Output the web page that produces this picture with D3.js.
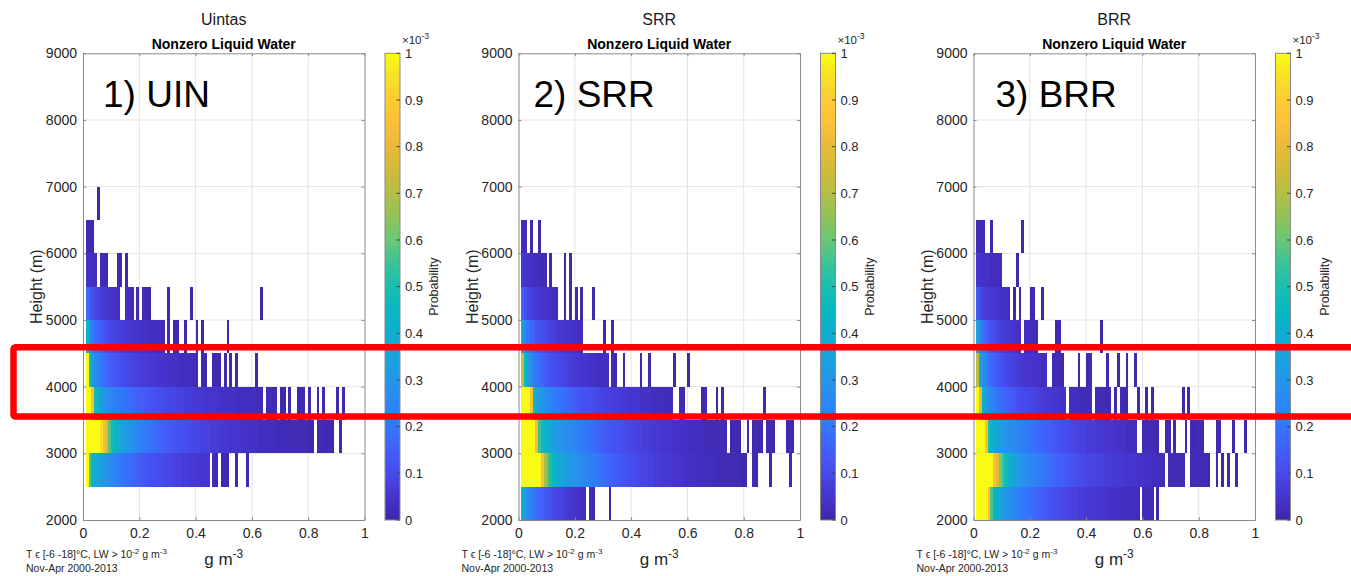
<!DOCTYPE html>
<html>
<head>
<meta charset="utf-8">
<script src="https://cdn.jsdelivr.net/npm/d3@7"></script>
<style>
  html, body { margin: 0; padding: 0; background: #fff; }
  svg { display: block; font-family: "Liberation Sans", Arial, Helvetica, sans-serif; }
</style>
</head>
<body>
<svg id="chart" width="1351" height="576"></svg>
<script>
// Liquid-water histograms: probability per 0.01 g m^-3 bin (first bin starts at 0.01),
// stored in units of 1e-5, one array per 500 m height layer (name = layer base in m).
const lwFirstBin = 0.01;
const lwBinWidth = 0.01;
const layerDepth = 500;
const valueUnit = 1e-5;

// 1) Uintas
const uin2500 = [110,58,45,38,35,33,30,28,27,25,24,22,21,20,19,18,17,16,15,14,13,13,12,12,11,11,10,10,9,9,9,8,8,8,7,7,7,6,6,6,5,5,5,5,0,2,1,0,1,2,1,0,0,1,0,0,0,1];
const uin3000 = [160,220,200,160,125,95,83,78,58,48,43,40,37,34,32,30,28,26,25,24,22,21,20,19,18,17,16,15,15,14,13,13,12,12,11,11,10,10,9,9,9,8,8,8,7,7,7,6,6,6,6,5,5,5,5,4,4,4,4,4,4,3,3,3,3,3,3,3,2,2,2,2,2,2,2,2,2,2,2,1,1,0,2,2,2,1,2,1,0,0,1];
const uin3500 = [180,130,85,48,40,34,31,28,26,24,23,22,21,20,19,18,17,16,15,15,14,13,13,12,12,11,11,10,10,9,9,9,8,8,8,7,7,7,6,6,6,6,5,5,5,5,5,4,4,4,4,4,4,3,3,3,3,3,3,3,2,2,2,0,2,2,1,2,0,1,1,0,1,0,0,1,2,1,0,1,0,0,1,0,1,0,0,0,0,1,0,1];
const uin4000 = [100,48,32,27,23,20,18,16,15,14,13,12,11,10,10,9,9,8,8,7,7,7,6,6,6,5,5,5,5,4,4,4,4,3,3,3,3,3,2,2,0,1,1,0,0,1,2,1,0,1,0,1,0,1,0,0,0,0,0,0,1];
const uin4500 = [42,28,22,18,16,14,12,11,10,9,8,8,7,7,6,6,5,5,5,4,4,4,3,3,3,3,3,2,0,2,0,1,1,0,0,1,0,0,0,1,0,1,0,0,0,0,0,0,0,0,1];
const uin5000 = [18,14,11,9,8,7,6,5,5,4,4,3,0,0,3,2,2,0,2,0,2,2,1,0,0,0,0,0,0,1,0,0,0,0,0,0,0,1,0,0,0,0,0,0,0,0,0,0,0,0,0,0,0,0,0,0,0,0,0,0,0,0,1];
const uin5500 = [4,4,3,3,0,2,2,1,0,0,0,1,1,0,1];
const uin6000 = [2,2,1];
const uin6500 = [0,0,0,0,1];

// 2) SRR
const srr2000 = [40,30,26,23,20,18,16,15,13,12,11,10,9,8,8,7,6,6,5,5,4,4,3,0,2,1,0,0,0,0,0,1];
const srr2500 = [150,250,280,230,180,140,105,85,68,58,50,46,42,38,36,34,32,31,30,29,28,27,25,24,23,22,21,20,19,18,17,16,15,14,14,13,12,12,11,11,10,10,9,9,9,8,8,7,7,7,6,6,6,5,5,5,5,4,4,4,4,4,3,3,3,3,3,3,3,2,2,2,2,2,2,2,2,2,1,1,0,0,2,1,0,0,0,0,1,0,0,0,0,0,0,1];
const srr3000 = [200,250,200,150,110,82,55,47,43,38,36,34,32,30,29,28,27,26,25,24,23,22,21,20,19,18,17,16,15,14,13,13,12,12,11,11,10,10,9,9,8,8,8,7,7,7,6,6,6,6,5,5,5,5,4,4,4,4,4,3,3,3,3,3,3,2,2,2,2,2,2,2,2,0,1,2,2,1,0,0,1,0,1,2,1,1,0,1,2,1,0,0,0,0,1,2,1];
const srr3500 = [170,140,110,85,48,36,32,29,27,25,24,22,21,20,19,18,17,16,15,14,13,12,12,11,11,10,10,9,9,8,8,8,7,7,7,6,6,6,5,5,5,5,4,4,4,4,3,3,3,3,3,2,2,2,0,0,2,1,0,0,0,0,0,0,1,2,0,0,0,1,0,1,0,0,0,0,0,0,0,0,0,0,0,0,0,0,1];
const srr4000 = [75,45,32,27,23,20,18,16,14,13,12,11,10,10,9,8,8,7,7,6,6,5,5,5,4,4,4,3,3,3,3,0,2,1,0,0,1,0,0,0,0,0,1,0,0,1,0,0,0,0,0,0,0,0,1,0,0,0,0,1];
const srr4500 = [33,24,20,17,15,13,12,11,10,9,8,8,7,6,6,5,5,5,4,4,3,3,0,0,0,0,0,0,0,1,0,0,1];
const srr5000 = [16,11,9,8,7,6,6,5,5,4,4,3,3,0,0,1,0,1,0,1,0,1,0,0,0,1];
const srr5500 = [5,5,4,4,3,3,3,2,2,0,1,0,0,0,0,1,0,1];
const srr6000 = [2,2,0,1,0,0,1];

// 3) BRR
const brr2000 = [180,220,170,120,85,58,45,40,36,33,31,29,27,25,24,22,21,20,19,18,17,16,15,14,13,13,12,11,11,10,10,9,9,8,8,8,7,7,7,6,6,6,5,5,5,5,4,4,4,4,4,3,3,3,3,3,3,2,0,2,2,2,2,0,1];
const brr2500 = [170,260,250,200,150,105,85,78,63,55,48,44,38,35,33,31,29,28,26,25,24,23,22,21,20,19,18,17,16,15,15,14,13,13,12,11,11,10,10,9,9,9,8,8,8,7,7,7,6,6,6,6,5,5,5,5,5,4,4,4,4,4,3,3,3,3,3,0,2,2,2,2,2,2,0,0,2,2,2,2,2,2,1,0,0,1,0,1,0,1,0,0,1];
const brr3000 = [190,150,110,85,50,43,38,35,33,31,29,28,27,26,25,24,23,22,21,20,19,18,17,16,15,15,14,13,13,12,11,11,10,10,9,9,8,8,8,7,7,7,6,6,6,5,5,5,5,4,4,4,4,3,3,3,3,0,0,2,2,2,2,2,1,0,0,1,2,0,1,0,0,0,1,0,2,1,2,2,1,0,0,0,0,1,2,0,0,0,0,1,0,0,0,1];
const brr3500 = [120,80,40,32,28,25,22,20,18,17,16,15,14,13,12,11,10,10,9,9,8,8,7,7,6,6,6,5,5,5,4,4,0,3,3,3,3,2,2,2,2,0,2,2,2,2,1,2,0,1,0,2,1,1,0,0,0,1,0,0,1,0,1,0,0,0,0,0,0,0,0,0,0,1,0,1];
const brr4000 = [72,38,28,23,20,17,15,14,12,11,10,9,8,8,7,6,6,5,5,5,4,4,4,3,3,0,0,2,2,2,1,0,0,0,0,0,1,0,0,1,2,0,0,0,0,0,1,0,0,0,1,0,0,1,0,0,1];
const brr4500 = [33,24,19,16,13,12,10,9,8,7,7,6,5,5,4,4,0,3,3,3,2,2,0,0,0,0,0,0,1,2,0,0,0,0,0,0,0,0,0,0,0,0,0,0,1];
const brr5000 = [14,10,8,7,6,6,5,5,4,4,4,3,0,1,0,1,0,0,0,1,2,0,0,1];
const brr5500 = [5,5,4,4,4,3,3,3,2,0,0,0,0,0,1];
const brr6000 = [2,2,2,0,0,1,0,0,0,0,0,0,0,0,0,0,1];

const siteNames = ["Uintas", "SRR", "BRR"];
const siteTags = ["1) UIN", "2) SRR", "3) BRR"];
const siteLayers = [
  [[2500, uin2500], [3000, uin3000], [3500, uin3500], [4000, uin4000], [4500, uin4500],
   [5000, uin5000], [5500, uin5500], [6000, uin6000], [6500, uin6500]],
  [[2000, srr2000], [2500, srr2500], [3000, srr3000], [3500, srr3500], [4000, srr4000],
   [4500, srr4500], [5000, srr5000], [5500, srr5500], [6000, srr6000]],
  [[2000, brr2000], [2500, brr2500], [3000, brr3000], [3500, brr3500], [4000, brr4000],
   [4500, brr4500], [5000, brr5000], [5500, brr5500], [6000, brr6000]]
];

const xTicks = [0, 0.2, 0.4, 0.6, 0.8, 1];
const yTicks = [2000, 3000, 4000, 5000, 6000, 7000, 8000, 9000];
const cbTicks = [0, 0.1, 0.2, 0.3, 0.4, 0.5, 0.6, 0.7, 0.8, 0.9, 1];
const probMax = 1e-3;

// parula-style colour ramp
const parulaStops = [
  [62,38,168],[69,52,205],[71,74,235],[66,95,250],[52,118,251],[43,135,244],
  [36,150,232],[25,163,220],[13,174,208],[8,183,192],[26,190,175],[58,195,150],
  [104,199,118],[146,194,88],[180,190,70],[210,185,58],[234,185,58],[250,192,58],
  [254,204,52],[246,225,38],[249,251,20]
].map(c => d3.rgb(c[0], c[1], c[2]).formatHex());
const ramp = d3.scaleLinear()
  .domain(parulaStops.map((_, i) => i / (parulaStops.length - 1)))
  .range(parulaStops)
  .interpolate(d3.interpolateRgb)
  .clamp(true);
const colorOf = p => ramp(Math.min(1, p / probMax));

const svg = d3.select("#chart");
const defs = svg.append("defs");
const grad = defs.append("linearGradient").attr("id", "cbgrad")
  .attr("x1", 0).attr("y1", 1).attr("x2", 0).attr("y2", 0);
d3.range(0, 1.0001, 0.02).forEach(t => {
  grad.append("stop").attr("offset", t).attr("stop-color", ramp(t));
});

const axisTop = 53.3, axisBottom = 520, axisWidth = 281.5;
const panelLefts = [83, 518.5, 973.5];
const tagOffsets = [20, 15, 22];
const textColor = "#262626";
const axisColor = "#8a8a8a";

siteNames.forEach((name, k) => {
  const left = panelLefts[k];
  const right = left + axisWidth;
  const x = d3.scaleLinear().domain([0, 1]).range([left, right]);
  const y = d3.scaleLinear().domain([2000, 9000]).range([axisBottom, axisTop]);
  const g = svg.append("g");

  // grid
  g.append("g").selectAll("line").data(xTicks.slice(1, -1)).join("line")
    .attr("x1", d => x(d)).attr("x2", d => x(d))
    .attr("y1", axisTop).attr("y2", axisBottom)
    .attr("stroke", "#e4e4e4").attr("stroke-width", 1);
  g.append("g").selectAll("line").data(yTicks.slice(1, -1)).join("line")
    .attr("y1", d => y(d)).attr("y2", d => y(d))
    .attr("x1", left).attr("x2", right)
    .attr("stroke", "#e4e4e4").attr("stroke-width", 1);

  // histogram cells
  const cells = [];
  siteLayers[k].forEach(([base, vals]) => {
    vals.forEach((v, i) => {
      if (v > 0) cells.push({ base, lo: lwFirstBin + i * lwBinWidth, p: v * valueUnit });
    });
  });
  g.append("g").attr("shape-rendering", "crispEdges")
    .selectAll("rect").data(cells).join("rect")
    .attr("x", d => x(d.lo))
    .attr("width", d => x(d.lo + lwBinWidth) - x(d.lo))
    .attr("y", d => y(d.base + layerDepth))
    .attr("height", d => y(d.base) - y(d.base + layerDepth))
    .attr("fill", d => colorOf(d.p));

  // axes (box with inward ticks on all four sides)
  const xAxisB = d3.axisBottom(x).tickValues(xTicks).tickFormat(d3.format("~g")).tickSizeInner(-3).tickSizeOuter(0).tickPadding(8);
  const yAxisL = d3.axisLeft(y).tickValues(yTicks).tickFormat(d3.format("d")).tickSizeInner(-3).tickSizeOuter(0).tickPadding(6);
  const xAxisT = d3.axisTop(x).tickValues(xTicks).tickFormat("").tickSizeInner(-3).tickSizeOuter(0);
  const yAxisR = d3.axisRight(y).tickValues(yTicks).tickFormat("").tickSizeInner(-3).tickSizeOuter(0);
  const styleAxis = sel => {
    sel.select(".domain").attr("stroke", axisColor);
    sel.selectAll(".tick line").attr("stroke", axisColor);
    sel.selectAll(".tick text").attr("fill", textColor).attr("font-size", 14)
      .attr("font-family", "'Liberation Sans', Arial, sans-serif");
  };
  g.append("g").attr("transform", `translate(0,${axisBottom})`).call(xAxisB).call(styleAxis);
  g.append("g").attr("transform", `translate(${left},0)`).call(yAxisL).call(styleAxis);
  g.append("g").attr("transform", `translate(0,${axisTop})`).call(xAxisT).call(styleAxis);
  g.append("g").attr("transform", `translate(${right},0)`).call(yAxisR).call(styleAxis);

  const cx = (left + right) / 2;
  // titles
  g.append("text").attr("x", cx).attr("y", 25).attr("text-anchor", "middle")
    .attr("font-size", 16).attr("fill", "#1a1a1a").text(name);
  g.append("text").attr("x", cx).attr("y", 49).attr("text-anchor", "middle")
    .attr("font-size", 14).attr("font-weight", "bold").attr("fill", "#000").text("Nonzero Liquid Water");
  g.append("text").attr("x", left + tagOffsets[k]).attr("y", 107)
    .attr("font-size", 37).attr("fill", "#000").text(siteTags[k]);

  // axis labels
  g.append("text").attr("transform", `translate(${left - 41},${(axisTop + axisBottom) / 2}) rotate(-90)`)
    .attr("text-anchor", "middle").attr("font-size", 16).attr("fill", textColor).text("Height (m)");
  const xl = g.append("text").attr("x", cx).attr("y", 565).attr("text-anchor", "middle")
    .attr("font-size", 17).attr("fill", textColor);
  xl.append("tspan").text("g m");
  xl.append("tspan").attr("dy", -7).attr("font-size", 12).text("-3");

  // footnote
  const n1 = g.append("text").attr("x", left - 57).attr("y", 558).attr("font-size", 10.5).attr("fill", textColor);
  n1.append("tspan").text("T ϵ [-6 -18]°C, LW > 10");
  n1.append("tspan").attr("dy", -4).attr("font-size", 8).text("-2");
  n1.append("tspan").attr("dy", 4).text(" g m");
  n1.append("tspan").attr("dy", -4).attr("font-size", 8).text("-3");
  g.append("text").attr("x", left - 57).attr("y", 572).attr("font-size", 10.5).attr("fill", textColor)
    .text("Nov-Apr 2000-2013");

  // colour bar
  const cbLeft = left + 302, cbW = 15;
  const cbScale = d3.scaleLinear().domain([0, 1]).range([axisBottom, axisTop]);
  g.append("rect").attr("x", cbLeft).attr("y", axisTop).attr("width", cbW)
    .attr("height", axisBottom - axisTop).attr("fill", "url(#cbgrad)")
    .attr("stroke", axisColor).attr("stroke-width", 1);
  g.append("g").selectAll("line").data(cbTicks).join("line")
    .attr("x1", cbLeft + cbW - 3.5).attr("x2", cbLeft + cbW)
    .attr("y1", d => cbScale(d)).attr("y2", d => cbScale(d))
    .attr("stroke", "#444").attr("stroke-width", 1);
  g.append("g").selectAll("text").data(cbTicks).join("text")
    .attr("x", cbLeft + cbW + 5).attr("y", d => cbScale(d)).attr("dy", "0.35em")
    .attr("font-size", 13).attr("fill", textColor).text(d => d3.format("~g")(d));
  const ex = g.append("text").attr("x", cbLeft + 17).attr("y", 44).attr("font-size", 11.5).attr("fill", textColor);
  ex.append("tspan").text("×10");
  ex.append("tspan").attr("dy", -5).attr("font-size", 8.5).text("-3");
  g.append("text").attr("transform", `translate(${cbLeft + 53},${(axisTop + axisBottom) / 2}) rotate(-90)`)
    .attr("text-anchor", "middle").attr("font-size", 12.5).attr("fill", textColor).text("Probability");
});

// highlighted layer band
const bandY = d3.scaleLinear().domain([2000, 9000]).range([axisBottom, axisTop]);
svg.append("rect")
  .attr("x", 13.5).attr("y", bandY(4600) + 0.5)
  .attr("width", 1400).attr("height", bandY(3560) - bandY(4600))
  .attr("rx", 2).attr("fill", "none").attr("stroke", "#ff0000").attr("stroke-width", 6.5);
</script>
</body>
</html>
